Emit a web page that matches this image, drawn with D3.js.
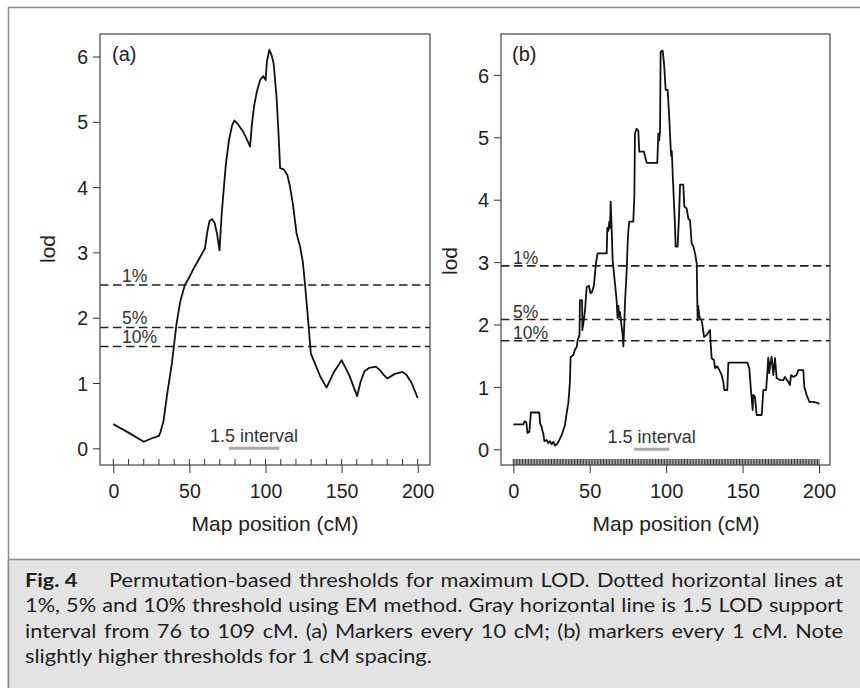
<!DOCTYPE html>
<html>
<head>
<meta charset="utf-8">
<script src="https://cdn.jsdelivr.net/npm/d3@7/dist/d3.min.js"></script>
<style>
  html, body { margin: 0; padding: 0; background: #fff; }
  svg { display: block; }
</style>
</head>
<body>
<svg id="fig" width="860" height="688"></svg>
<script>
// ---- LOD profile, markers every 10 cM (panel a) ----
const cmA = [0, 10, 20, 25, 30, 31, 33, 35.5, 38.5, 41.5, 44, 47, 50, 52.5, 55.9, 58, 60.2,
  61.8, 63.2, 64.8, 66.6, 68.2, 69.8, 71.1, 72.5, 74, 76, 78, 79.5, 82, 85, 88, 89.9,
  91, 92.5, 94.3, 96.5, 98.5, 100.1, 100.9, 102.5, 104, 105.3, 107.2, 108.5, 109.6,
  112, 114.3, 116, 118, 120.4, 122.7, 124.5, 125.8, 127.5, 129.8, 133, 136, 140.1,
  145, 150, 155, 160.2, 162.5, 165, 168, 170, 172.5, 175, 177.5, 180, 185, 190,
  192.5, 196, 200];
const lodA = [0.37, 0.24, 0.10, 0.15, 0.19, 0.25, 0.42, 0.85, 1.30, 1.90, 2.25, 2.50, 2.62, 2.74, 2.88, 2.97, 3.06,
  3.32, 3.48, 3.51, 3.45, 3.28, 3.03, 3.55, 3.95, 4.36, 4.72, 4.94, 5.02, 4.96, 4.86, 4.72, 4.62,
  4.95, 5.24, 5.46, 5.64, 5.70, 5.64, 5.92, 6.10, 6.02, 5.90, 5.40, 4.85, 4.29,
  4.27, 4.19, 4.02, 3.74, 3.29, 3.09, 2.86, 2.55, 2.10, 1.45, 1.27, 1.10, 0.93,
  1.17, 1.35, 1.12, 0.80, 1.02, 1.18, 1.23, 1.24, 1.25, 1.20, 1.13, 1.07, 1.14, 1.17,
  1.13, 1.00, 0.77];

// ---- LOD profile, markers every 1 cM (panel b) ----
const cmB = [0, 6.5, 7.5, 8.5, 9.3, 10.5, 11.5, 17, 17.5, 18.5, 19, 19.6, 20.3, 21.8, 22.9, 24,
  25.1, 26.2, 27.3, 28.5, 29.5, 31.7, 33.8, 34.9, 36, 37, 37.5, 39.3, 40.4, 41.5, 42.1,
  43.3, 43.6, 45, 45.2, 46.3, 47, 48, 49.5, 50.5, 51.5, 52.7, 54.1, 55.2, 61.1, 61.5,
  62.2, 62.8, 63.3, 63.7, 64.4, 65, 66.5, 67.6, 68.2, 68.7, 69.3, 69.8, 70.9, 71.5, 72,
  72.6, 73.1, 74.2, 74.8, 75.3, 75.9, 78.5, 79.2, 79.6, 80.7, 81.8, 82.4, 85.5, 86.2,
  87.3, 94.2, 94.9, 95.4, 96, 96.4, 97.7, 98.6, 99.7, 101, 102.1, 103, 103.3, 103.7,
  104.3, 105.8, 106.2, 107.5, 108.4, 109.1, 111.2, 111.9, 113.4, 114.5, 115.6, 116.7,
  117.8, 118.9, 120, 120.4, 120.6, 121, 121.6, 122.1, 123.2, 123.9, 124.8, 126.5, 128.7,
  129.1, 129.8, 131.3, 132, 133.5, 134.8, 136.3, 137.4, 138, 140, 140.7, 153.1, 154.4,
  155.3, 156.6, 157, 158.1, 159.2, 162.5, 163.6, 165.4, 166.2, 166.8, 167.5, 168, 169,
  170.1, 171.2, 172.3, 174.5, 176.7, 177.7, 179.9, 181, 181.7, 183.2, 185.3, 186.5,
  189.7, 190.4, 191.9, 193.7, 196.3, 199.6, 200];
const lodB = [0.40, 0.40, 0.45, 0.43, 0.26, 0.28, 0.59, 0.59, 0.42, 0.36, 0.30, 0.26, 0.13, 0.15, 0.10, 0.13,
  0.08, 0.12, 0.06, 0.08, 0.12, 0.23, 0.39, 0.58, 0.74, 1.06, 1.48, 1.51, 1.60, 1.64, 1.75,
  1.83, 2.39, 2.39, 1.91, 2.10, 2.25, 2.60, 2.62, 2.50, 2.52, 2.62, 2.99, 3.14, 3.14, 3.55,
  3.50, 3.65, 3.55, 3.97, 3.51, 3.03, 2.66, 2.39, 2.10, 2.30, 2.12, 2.20, 1.96, 1.85, 1.65,
  2.00, 2.37, 2.87, 3.30, 3.51, 3.65, 3.65, 4.05, 5.06, 5.14, 5.10, 4.77, 4.77, 4.69,
  4.59, 4.59, 5.06, 4.95, 5.10, 6.37, 6.39, 6.19, 5.76, 5.76, 5.28, 4.80, 4.70, 4.78,
  4.40, 3.57, 3.25, 3.25, 3.73, 4.24, 4.24, 3.89, 3.86, 3.70, 3.67, 3.30,
  3.25, 3.14, 2.98, 2.34, 2.07, 2.30, 2.15, 2.10, 2.07, 1.96, 1.80, 1.83, 1.91,
  1.70, 1.46, 1.43, 1.30, 1.33, 1.27, 1.19, 1.08, 0.95, 0.95, 1.39, 1.39, 1.30,
  1.00, 0.63, 0.87, 0.84, 0.55, 0.55, 0.95, 0.95, 1.22, 1.47, 1.22, 1.35, 1.48,
  1.19, 1.46, 1.14, 1.11, 1.11, 1.16, 1.08, 1.03, 1.19, 1.16, 1.19, 1.27,
  1.27, 1.00, 0.87, 0.76, 0.76, 0.74, 0.72];

// ---- permutation thresholds (1%, 5%, 10%) ----
const thresholdLabels = ["1%", "5%", "10%"];
const thresholdsA = [2.50, 1.85, 1.56];
const thresholdsB = [2.94, 2.08, 1.74];

// ---- 1.5 LOD support intervals (cM) ----
const intervalA = [76, 109];
const intervalB = [79, 102];

// ---- marker spacing (cM) and axis ticks ----
const markerSpacing = [10, 1];
const xTicks = [0, 50, 100, 150, 200];
const yTicks = [0, 1, 2, 3, 4, 5, 6];
const panelTags = ["(a)", "(b)"];
const xTitle = "Map position (cM)";
const yTitle = "lod";

// ---- caption ----
const figLabel = "Fig. 4";
const captionLines = [
  "Permutation-based thresholds for maximum LOD. Dotted horizontal lines at",
  "1%, 5% and 10% threshold using EM method. Gray horizontal line is 1.5 LOD support",
  "interval from 76 to 109 cM. (a) Markers every 10 cM; (b) markers every 1 cM. Note",
  "slightly higher thresholds for 1 cM spacing."
];

const svg = d3.select("#fig");
const plotFont = "'Liberation Sans', Arial, Helvetica, sans-serif";
const ink = "#222";

// outer frame and caption panel
svg.append("rect").attr("x", 8.5).attr("y", 7.5).attr("width", 900).attr("height", 720)
  .attr("fill", "#fff").attr("stroke", "#8c8c8c").attr("stroke-width", 1.5);
svg.append("rect").attr("x", 8.5).attr("y", 559.5).attr("width", 900).attr("height", 200)
  .attr("fill", "#e4e4e5").attr("stroke", "#8c8c8c").attr("stroke-width", 1.5);

function drawPanel(cfg) {
  const g = svg.append("g");
  const x = d3.scaleLinear().domain([0, 200]).range(cfg.xRange);
  const y = d3.scaleLinear().domain([0, 6]).range(cfg.yRange);

  // y axis
  const ya = g.append("g").attr("transform", `translate(${cfg.box[0]},0)`)
    .call(d3.axisLeft(y).tickValues(yTicks).tickSize(7).tickPadding(5).tickFormat(d3.format("d")));
  ya.select(".domain").remove();
  ya.selectAll("line").attr("stroke", "#333").attr("stroke-width", 1);
  ya.selectAll("text").attr("font-family", plotFont).attr("font-size", cfg.tickSize)
    .attr("fill", ink).attr("dy", "0.36em");

  // x axis
  const xa = g.append("g").attr("transform", `translate(0,${cfg.box[3]})`)
    .call(d3.axisBottom(x).tickValues(xTicks).tickSize(8).tickFormat(d3.format("d")));
  xa.select(".domain").remove();
  xa.selectAll("line").attr("stroke", "#333").attr("stroke-width", 1);
  xa.selectAll("text").attr("font-family", plotFont).attr("font-size", cfg.tickSize)
    .attr("fill", ink).attr("y", cfg.xLabelBase - cfg.box[3]).attr("dy", 0);

  // marker rug
  g.append("g").selectAll("line").data(d3.range(0, 200 + 1e-9, cfg.spacing)).join("line")
    .attr("x1", d => x(d)).attr("x2", d => x(d))
    .attr("y1", cfg.box[3] - 6).attr("y2", cfg.box[3])
    .attr("stroke", "#333").attr("stroke-width", 1);

  // thresholds
  cfg.thresholds.forEach((t, i) => {
    g.append("line").attr("x1", cfg.box[0]).attr("x2", cfg.box[2])
      .attr("y1", y(t)).attr("y2", y(t))
      .attr("stroke", ink).attr("stroke-width", 1.6).attr("stroke-dasharray", "8.5,4.5");
    g.append("text").attr("x", cfg.box[0] + cfg.thrLabelDx).attr("y", y(t) - cfg.thrLabelDy)
      .attr("font-family", plotFont).attr("font-size", 17.5).attr("fill", "#333")
      .text(thresholdLabels[i]);
  });

  // support interval
  g.append("line").attr("x1", x(cfg.interval[0])).attr("x2", x(cfg.interval[1]))
    .attr("y1", y(0)).attr("y2", y(0))
    .attr("stroke", "#a8a8a8").attr("stroke-width", 3);
  g.append("text").attr("x", x((cfg.interval[0] + cfg.interval[1]) / 2) + cfg.intLabelDx)
    .attr("y", cfg.intLabelBase).attr("text-anchor", "middle")
    .attr("font-family", plotFont).attr("font-size", 18).attr("fill", "#333")
    .text("1.5 interval");

  // LOD curve
  const pts = cfg.cm.map((c, i) => [c, cfg.lod[i]]);
  g.append("path").datum(pts)
    .attr("d", d3.line().x(d => x(d[0])).y(d => y(d[1])))
    .attr("fill", "none").attr("stroke", "#111").attr("stroke-width", 1.8)
    .attr("stroke-linejoin", "round");

  // box
  g.append("rect").attr("x", cfg.box[0]).attr("y", cfg.box[1])
    .attr("width", cfg.box[2] - cfg.box[0]).attr("height", cfg.box[3] - cfg.box[1])
    .attr("fill", "none").attr("stroke", "#444").attr("stroke-width", 1.2);

  // panel tag
  g.append("text").attr("x", cfg.box[0] + cfg.tagDx).attr("y", 61)
    .attr("font-family", plotFont).attr("font-size", 20).attr("fill", ink).text(cfg.tag);

  // titles
  g.append("text").attr("x", cfg.xTitleX).attr("y", 530.5).attr("text-anchor", "middle")
    .attr("font-family", plotFont).attr("font-size", 21).attr("fill", ink).text(xTitle);
  g.append("text").attr("transform", `translate(${cfg.yTitleX},${cfg.yTitleY}) rotate(-90)`)
    .attr("text-anchor", "middle")
    .attr("font-family", plotFont).attr("font-size", 21).attr("fill", ink).text(yTitle);
}

drawPanel({
  box: [100, 34, 430, 465], xRange: [113.3, 417.7], yRange: [448.3, 56.5],
  cm: cmA, lod: lodA, thresholds: thresholdsA, interval: intervalA, spacing: markerSpacing[0],
  tag: panelTags[0], tagDx: 12, tickSize: 19.5, xLabelBase: 498,
  thrLabelDx: 22, thrLabelDy: 3, intLabelDx: 0, intLabelBase: 441.5,
  xTitleX: 275, yTitleX: 55, yTitleY: 249
});
drawPanel({
  box: [501, 34, 830, 465], xRange: [513.3, 819], yRange: [449.3, 74.9],
  cm: cmB, lod: lodB, thresholds: thresholdsB, interval: intervalB, spacing: markerSpacing[1],
  tag: panelTags[1], tagDx: 11, tickSize: 20, xLabelBase: 498,
  thrLabelDx: 12, thrLabelDy: 1.5, intLabelDx: 0, intLabelBase: 442.5,
  xTitleX: 676, yTitleX: 457, yTitleY: 261
});

// caption: justified lines, glyphs widened a little to fill the column
const capFont = "Lato, 'Open Sans', sans-serif";
const cap = svg.append("g").attr("fill", "#1e1e1e").attr("font-family", capFont);
const capLeft = 25, rightEdge = 843, tagIndent = 84;
const lineStart = captionLines.map((l, i) => capLeft + (i === 0 ? tagIndent : 0));
const capSize = 19;

function textWidth(str, bold) {
  const t = cap.append("text").attr("font-size", capSize).text(str);
  if (bold) t.attr("font-weight", "bold");
  const len = t.node().getComputedTextLength();
  t.remove();
  return len;
}
// horizontal stretch: largest factor at which every justified line still fits
const stretch = 0.992 * d3.min(captionLines.slice(0, 3),
  (line, i) => (rightEdge - lineStart[i]) / textWidth(line, false));

const baselines = [586.5, 612, 637.5, 663];
function placeWord(str, x, y, bold) {
  const t = cap.append("text").attr("font-size", capSize)
    .attr("transform", `translate(${x},${y}) scale(${stretch},1)`).text(str);
  if (bold) t.attr("font-weight", "bold");
}
placeWord(figLabel, capLeft, baselines[0], true);

captionLines.forEach((line, li) => {
  const x0 = lineStart[li];
  const words = line.split(" ");
  const widths = words.map(w => textWidth(w, false) * stretch);
  const spaceW = (textWidth(line, false) - d3.sum(words, w => textWidth(w, false))) / (words.length - 1) * stretch;
  const justify = li < captionLines.length - 1;
  const gap = justify ? (rightEdge - x0 - d3.sum(widths)) / (words.length - 1) : spaceW;
  let cx = x0;
  words.forEach((w, i) => { placeWord(w, cx, baselines[li], false); cx += widths[i] + gap; });
});
</script>
</body>
</html>
